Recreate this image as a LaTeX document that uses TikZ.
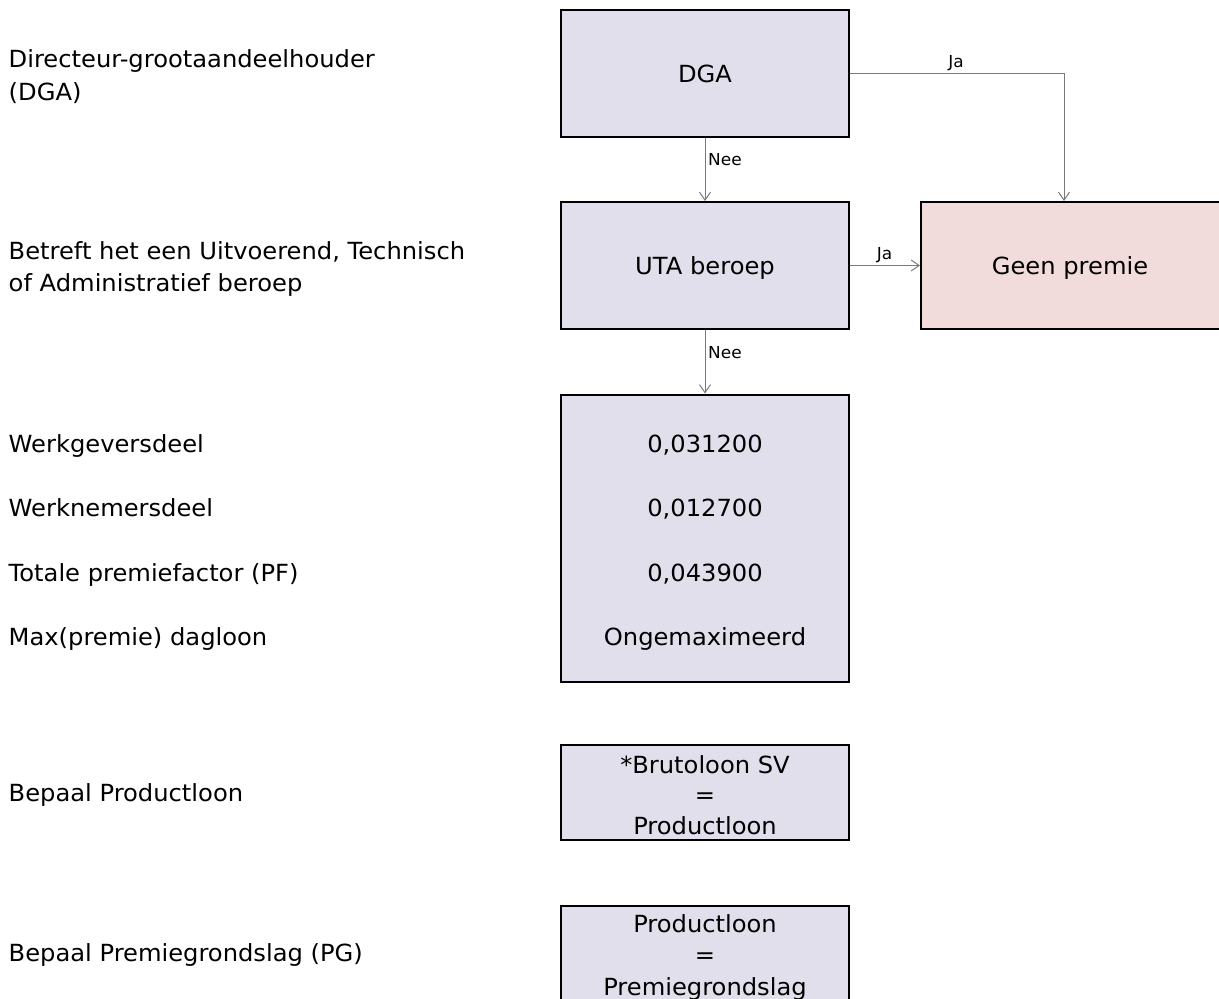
\documentclass[tikz,border=0pt]{standalone}
\usepackage{fontspec}
\setmainfont{DejaVu Sans}[FakeStretch=1.025]
\usetikzlibrary{arrows.meta}
\definecolor{boxblue}{HTML}{E2DFEC}
\definecolor{boxpink}{HTML}{F2DCDB}
\definecolor{linegray}{HTML}{7A7A7A}
\tikzset{
  box/.style={draw=black, line width=2pt, inner sep=0pt, outer sep=1pt, rectangle},
  txt/.style={anchor=base, inner sep=0pt, font=\fontsize{23.6}{30}\selectfont},
  lbl/.style={anchor=base west, inner sep=0pt, font=\fontsize{23.6}{30}\selectfont},
  conn/.style={draw=linegray, line width=1pt, -{Straight Barb[length=8pt,width=11pt]}},
  small/.style={anchor=base, inner sep=0pt, font=\fontsize{16.5}{18}\selectfont},
}
\begin{document}
\begin{tikzpicture}[x=1pt,y=-1pt]
\clip (0,0) rectangle (1219,999);
\fill[white] (0,0) rectangle (1219,999);

% boxes
\node[box, fill=boxblue, minimum width=288pt, minimum height=127pt] (dga) at (705,73.5) {};
\node[box, fill=boxblue, minimum width=288pt, minimum height=127pt] (uta) at (705,265.5) {};
\node[box, fill=boxpink, minimum width=301pt, minimum height=127pt] (geen) at (1071.5,265.5) {};
\node[box, fill=boxblue, minimum width=288pt, minimum height=287.5pt] (vals) at (705,538.25) {};
\node[box, fill=boxblue, minimum width=288pt, minimum height=95pt] (bruto) at (705,792.5) {};
\node[box, fill=boxblue, minimum width=288pt, minimum height=104pt] (pg) at (705,958) {};

% box texts
\node[txt] (tdga) at (705,82) {DGA};
\node[txt] (tuta) at (705,274) {UTA beroep};
\node[txt] (tgeen) at (1070,274) {Geen premie};
\node[txt] (v1) at (705,452) {0,031200};
\node[txt] (v2) at (705,516.5) {0,012700};
\node[txt] (v3) at (705,581) {0,043900};
\node[txt] (v4) at (705,645.5) {Ongemaximeerd};
\node[txt] (b1) at (705,773) {*Brutoloon SV};
\node[txt] (b2) at (705,803.5) {=};
\node[txt] (b3) at (705,834) {Productloon};
\node[txt] (p1) at (705,932) {Productloon};
\node[txt] (p2) at (705,963.5) {=};
\node[txt] (p3) at (705,995) {Premiegrondslag};

% left labels
\node[lbl] (l1a) at (8.5,67.3) {Directeur-grootaandeelhouder};
\node[lbl] (l1b) at (8.5,100) {(DGA)};
\node[lbl] (l2a) at (8.5,259.3) {Betreft het een Uitvoerend, Technisch};
\node[lbl] (l2b) at (8.5,291.7) {of Administratief beroep};
\node[lbl] (l3) at (8.5,452) {Werkgeversdeel};
\node[lbl] (l4) at (8.5,516.5) {Werknemersdeel};
\node[lbl] (l5) at (8.5,581) {Totale premiefactor (PF)};
\node[lbl] (l6) at (8.5,645.5) {Max(premie) dagloon};
\node[lbl] (l7) at (8.5,801.5) {Bepaal Productloon};
\node[lbl] (l8) at (8.5,961.5) {Bepaal Premiegrondslag (PG)};

% connectors
\coordinate (jc) at (1064,73.5);
\draw[conn] (dga.south) -- (uta.north);
\draw[conn] (uta.south) -- (vals.north);
\draw[conn] (uta.east) -- (geen.west);
\draw[conn] (dga.east) -- (jc) -- (jc |- geen.north);

% connector labels
\node[small, anchor=base west] (nee1) at (708,165.5) {Nee};
\node[small, anchor=base west] (nee2) at (708,358.5) {Nee};
\node[small] (ja2) at (884.5,259.5) {Ja};
\node[small] (ja1) at (956,67) {Ja};
\end{tikzpicture}
\end{document}
